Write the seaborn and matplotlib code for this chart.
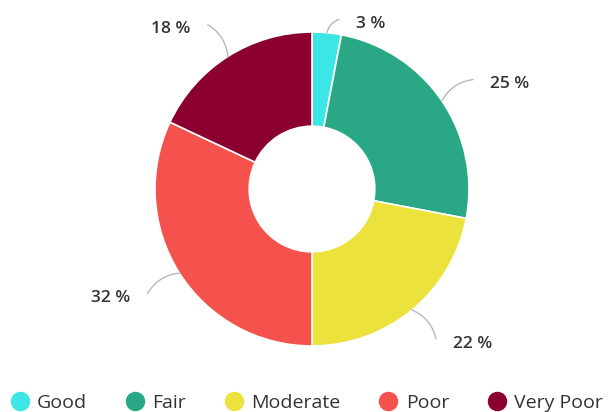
import numpy as np
import matplotlib
matplotlib.use("Agg")
import matplotlib.pyplot as plt
import seaborn as sns
from matplotlib.lines import Line2D

categories = ["Good", "Fair", "Moderate", "Poor", "Very Poor"]
values = [3, 25, 22, 32, 18]
labels = ["3 %", "25 %", "22 %", "32 %", "18 %"]
colors = ["#3ce6e6", "#2aa886", "#ebe33c", "#f5524d", "#8b0031"]

sns.set_theme(style="white")
plt.rcParams["font.family"] = ["Open Sans", "DejaVu Sans"]

W, H = 613, 412
fig = plt.figure(figsize=(W / 100, H / 100), dpi=100)
ax = fig.add_axes([0, 0, 1, 1])
R_PX = 157
cx, cy = 312, 189

wedges, _ = ax.pie(values, colors=colors, startangle=90, counterclock=False,
                   radius=1.0, wedgeprops=dict(width=0.6, edgecolor="white", linewidth=1.2))
ax.set_xlim(-cx / R_PX, (W - cx) / R_PX)
ax.set_ylim(-(H - cy) / R_PX, cy / R_PX)
ax.set_aspect("equal")
ax.axis("off")

for w, lab in zip(wedges, labels):
    ang = np.deg2rad((w.theta1 + w.theta2) / 2)
    x0, y0 = np.cos(ang), np.sin(ang)
    x1, y1 = 1.24 * np.cos(ang), 1.24 * np.sin(ang)
    if y1 > 1.08:
        y1 = 1.08
        x1 = 0.17
    right = x1 >= 0
    ax.annotate("", xy=(x0, y0), xytext=(x1, y1),
                arrowprops=dict(arrowstyle="-", color="#b8b8b8", lw=1,
                                shrinkA=0, shrinkB=0,
                                connectionstyle="arc3,rad=%s" % (0.25 if right else -0.25)))
    tx = x1 + (0.11 if right else -0.11)
    ax.text(tx, y1 - 0.03, lab, ha="left" if right else "right", va="center",
            fontsize=12.5, fontweight="semibold", color="#333333")

handles = [Line2D([0], [0], marker="o", linestyle="", markersize=13,
                  markerfacecolor=c, markeredgecolor=c) for c in colors]
leg = fig.legend(handles, categories, loc="lower center", bbox_to_anchor=(0.5, -0.038),
                 ncol=5, frameon=False, fontsize=14, handletextpad=0.4,
                 columnspacing=1.95, handlelength=1.0, borderpad=0.3)
for t in leg.get_texts():
    t.set_color("#333333")

fig.savefig("out.png", dpi=100)
